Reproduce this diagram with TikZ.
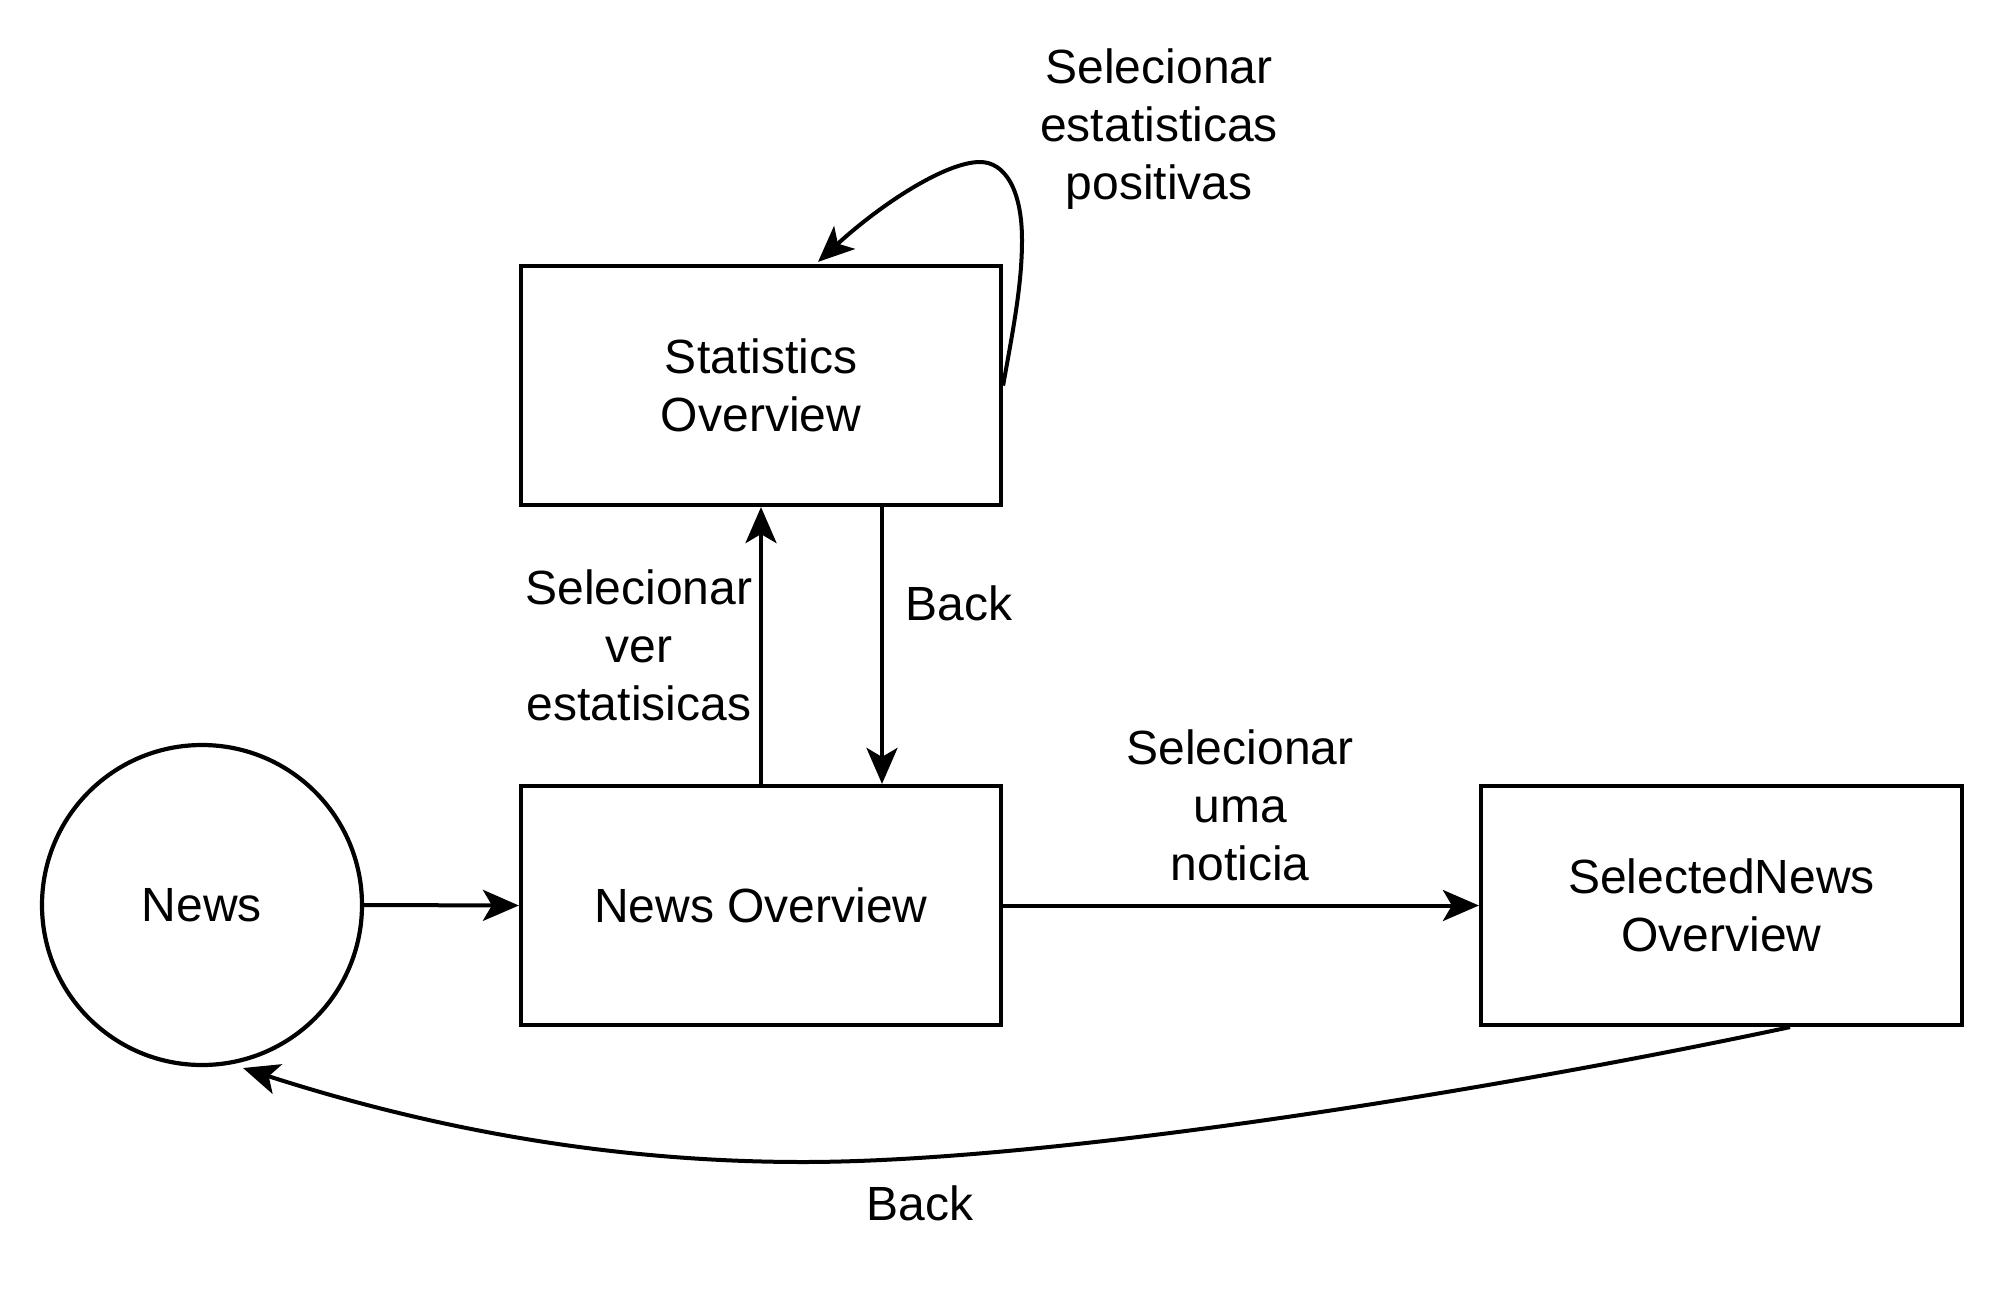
\documentclass[tikz,border=0pt]{standalone}
\usepackage{fontspec}
\setmainfont{Liberation Sans}
\usetikzlibrary{arrows.meta}
\begin{document}
\begin{tikzpicture}[x=1pt,y=-1pt,
  txt/.style={font=\fontsize{48}{58}\selectfont, align=center, inner sep=0pt},
  box/.style={txt, draw, line width=4.2pt, rectangle, minimum width=480pt, minimum height=239pt},
  state/.style={txt, draw, line width=4.2pt, circle, minimum size=320pt},
  conn/.style={line width=4pt, -{Stealth[length=36pt,width=31pt,inset=9pt]}}]
\useasboundingbox (0,0) rectangle (2004,1308);
\node[state] (news) at (202,905) {News};
\node[box] (stats) at (761,385.5) {Statistics\\Overview};
\node[box] (no) at (761,905.5) {News Overview};
\node[box, minimum width=481pt] (sel) at (1721.5,905.5) {SelectedNews\\Overview};
\node[txt] (lpos) at (1159,129) {Selecionar\\estatisticas\\positivas};
\node[txt] (lver) at (639,645) {Selecionar\\ver\\estatisicas};
\node[txt] (lback1) at (959,603) {Back};
\node[txt] (luma) at (1240,805) {Selecionar\\uma\\noticia};
\node[txt] (lback2) at (920,1203) {Back};
\coordinate (looptip) at ([xshift=57pt,yshift=2pt]stats.north);
\coordinate (backstart) at ([xshift=68.5pt]sel.south);
\coordinate (backtip) at (243,1068);
\draw[conn] (news.east) -- (no.west);
\draw[conn] (no.north) -- (stats.south);
\draw[conn] ([xshift=121pt]stats.south) -- ([xshift=121pt]no.north);
\draw[conn] (no.east) -- (sel.west);
\draw[conn] (stats.east) .. controls (1013,330) and (1022,285) .. (1022,240)
  .. controls (1022,190) and (1005,162) .. (980,162)
  .. controls (945,162) and (880,205) .. (looptip);
\draw[conn] (backstart) .. controls (1490,1091) and (1050,1162) .. (803,1162)
  .. controls (600,1162) and (420,1125) .. (backtip);
\end{tikzpicture}
\end{document}
